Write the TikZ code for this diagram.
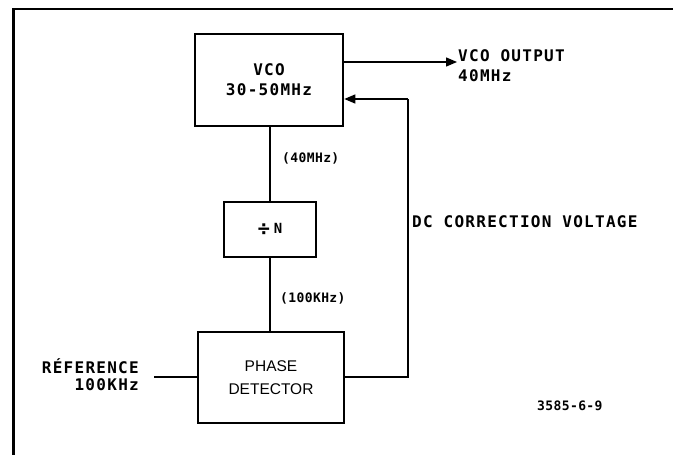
\documentclass[tikz,border=0pt]{standalone}
\usepackage{fontspec}
\usetikzlibrary{arrows.meta}
\newfontfamily\plotfont{DejaVu Sans Mono}[LetterSpace=8]
\newfontfamily\plotfontw{DejaVu Sans Mono}[LetterSpace=3]
\newfontfamily\helv{Liberation Sans}
\tikzset{
  blk/.style={draw, line width=2.6pt, rectangle, inner sep=0pt, align=center},
  wire/.style={line width=1.3pt},
  arr/.style={wire, -{Triangle[length=11pt,width=9pt]}},
  big/.style={font=\plotfont\bfseries\fontsize{16}{20}\selectfont},
  small/.style={font=\plotfontw\bfseries\fontsize{13}{15}\selectfont},
}
\begin{document}
\begin{tikzpicture}[x=1pt,y=-1pt]
\useasboundingbox (0,0) rectangle (673,455);
% frame
\draw[line width=2.8pt] (13.5,455) -- (13.5,9) -- (673,9);
% blocks
\node[blk, big, minimum width=148pt, minimum height=92pt] (vco) at (269,80) {VCO\\30-50MHz};
\node[blk, minimum width=92pt, minimum height=55pt, font=\plotfontw\bfseries\fontsize{20}{22}\selectfont] (div) at (270,229.5) {÷\fontsize{14}{15}\selectfont\hspace{4pt}\raisebox{1.5pt}{N}};
\node[blk, minimum width=146pt, minimum height=91pt, font=\helv\fontsize{15.5}{23}\selectfont] (pd) at (271,377.5) {PHASE\\DETECTOR};
% coordinates
\coordinate (out) at (457,62);
\coordinate (fbr) at (408,377);
\coordinate (fbt) at (408,99);
\coordinate (ref) at (154,377);
% connectors
\draw[wire] (vco.south -| div.north) -- (div.north);
\draw[wire] (div.south) -- (div.south |- pd.north);
\draw[arr] (vco.east |- out) -- (out);
\draw[wire] (pd.east |- fbr) -- (fbr) -- (fbt);
\draw[arr] (fbt) -- (vco.east |- fbt);
\draw[wire] (ref) -- (pd.west |- ref);
% labels
\node[big, anchor=west, inner sep=0pt] (outl1) at (458,56) {VCO OUTPUT};
\node[big, anchor=west, inner sep=0pt] (outl2) at (458,76) {40MHz};
\node[small, anchor=west, inner sep=0pt] (f40) at (282,158) {(40MHz)};
\node[small, anchor=west, inner sep=0pt] (f100) at (280,298) {(100KHz)};
\node[big, anchor=west, inner sep=0pt] (dcv) at (412,222) {DC CORRECTION VOLTAGE};
\node[big, anchor=east, inner sep=0pt] (refl1) at (139,366) {RÉFERENCE};
\node[big, anchor=east, inner sep=0pt] (refl2) at (139,385) {100KHz};
\node[small, anchor=west, inner sep=0pt] (fig) at (537,406) {3585-6-9};
\end{tikzpicture}
\end{document}
